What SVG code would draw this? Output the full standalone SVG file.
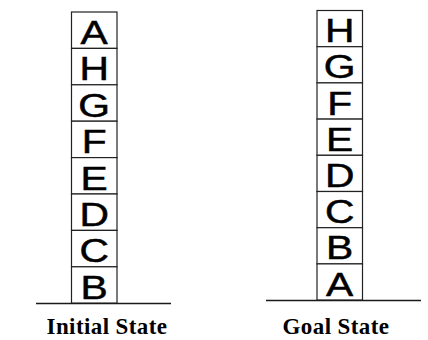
<svg xmlns="http://www.w3.org/2000/svg" width="428" height="340" viewBox="0 0 428 340">
<style>
.box{fill:#fff;stroke:#222;stroke-width:1.2}
.ltr{font-family:"Liberation Sans",Arial,sans-serif;font-size:34px;fill:#000;stroke:#000;stroke-width:0.5;text-anchor:middle}
.ground{stroke:#1a1a1a;stroke-width:1.5}
.lbl{font-family:"Liberation Serif","Times New Roman",serif;font-weight:bold;font-size:23px;fill:#000;text-anchor:middle;letter-spacing:0.4px}
</style>
<rect width="428" height="340" fill="#fff"/>
<g id="initial-state">
<g id="i-A"><rect class="box" x="71.5" y="12" width="45.5" height="36.4"/><text class="ltr" transform="translate(94.2 43.9) scale(1.2 1)">A</text></g>
<g id="i-H"><rect class="box" x="71.5" y="48.4" width="45.5" height="36.4"/><text class="ltr" transform="translate(94.2 80.3) scale(1.2 1)">H</text></g>
<g id="i-G"><rect class="box" x="71.5" y="84.8" width="45.5" height="36.4"/><text class="ltr" transform="translate(94.2 116.7) scale(1.2 1)">G</text></g>
<g id="i-F"><rect class="box" x="71.5" y="121.2" width="45.5" height="36.4"/><text class="ltr" transform="translate(94.2 153.1) scale(1.2 1)">F</text></g>
<g id="i-E"><rect class="box" x="71.5" y="157.6" width="45.5" height="36.4"/><text class="ltr" transform="translate(94.2 189.5) scale(1.2 1)">E</text></g>
<g id="i-D"><rect class="box" x="71.5" y="194" width="45.5" height="36.4"/><text class="ltr" transform="translate(94.2 225.9) scale(1.2 1)">D</text></g>
<g id="i-C"><rect class="box" x="71.5" y="230.4" width="45.5" height="36.4"/><text class="ltr" transform="translate(94.2 262.3) scale(1.2 1)">C</text></g>
<g id="i-B"><rect class="box" x="71.5" y="266.8" width="45.5" height="36.4"/><text class="ltr" transform="translate(94.2 298.7) scale(1.2 1)">B</text></g>
<line class="ground" x1="36" y1="303.5" x2="171" y2="303.5"/>
<text class="lbl" x="107" y="334">Initial State</text>
</g>
<g id="goal-state">
<g id="g-H"><rect class="box" x="317" y="10.5" width="45.5" height="36.2"/><text class="ltr" transform="translate(339.7 42.2) scale(1.2 1)">H</text></g>
<g id="g-G"><rect class="box" x="317" y="46.7" width="45.5" height="36.2"/><text class="ltr" transform="translate(339.7 78.4) scale(1.2 1)">G</text></g>
<g id="g-F"><rect class="box" x="317" y="82.9" width="45.5" height="36.2"/><text class="ltr" transform="translate(339.7 114.6) scale(1.2 1)">F</text></g>
<g id="g-E"><rect class="box" x="317" y="119.1" width="45.5" height="36.2"/><text class="ltr" transform="translate(339.7 150.8) scale(1.2 1)">E</text></g>
<g id="g-D"><rect class="box" x="317" y="155.3" width="45.5" height="36.2"/><text class="ltr" transform="translate(339.7 187) scale(1.2 1)">D</text></g>
<g id="g-C"><rect class="box" x="317" y="191.5" width="45.5" height="36.2"/><text class="ltr" transform="translate(339.7 223.2) scale(1.2 1)">C</text></g>
<g id="g-B"><rect class="box" x="317" y="227.7" width="45.5" height="36.2"/><text class="ltr" transform="translate(339.7 259.4) scale(1.2 1)">B</text></g>
<g id="g-A"><rect class="box" x="317" y="263.9" width="45.5" height="36.2"/><text class="ltr" transform="translate(339.7 295.6) scale(1.2 1)">A</text></g>
<line class="ground" x1="266" y1="300.5" x2="421" y2="300.5"/>
<text class="lbl" x="336" y="334">Goal State</text>
</g>
</svg>
